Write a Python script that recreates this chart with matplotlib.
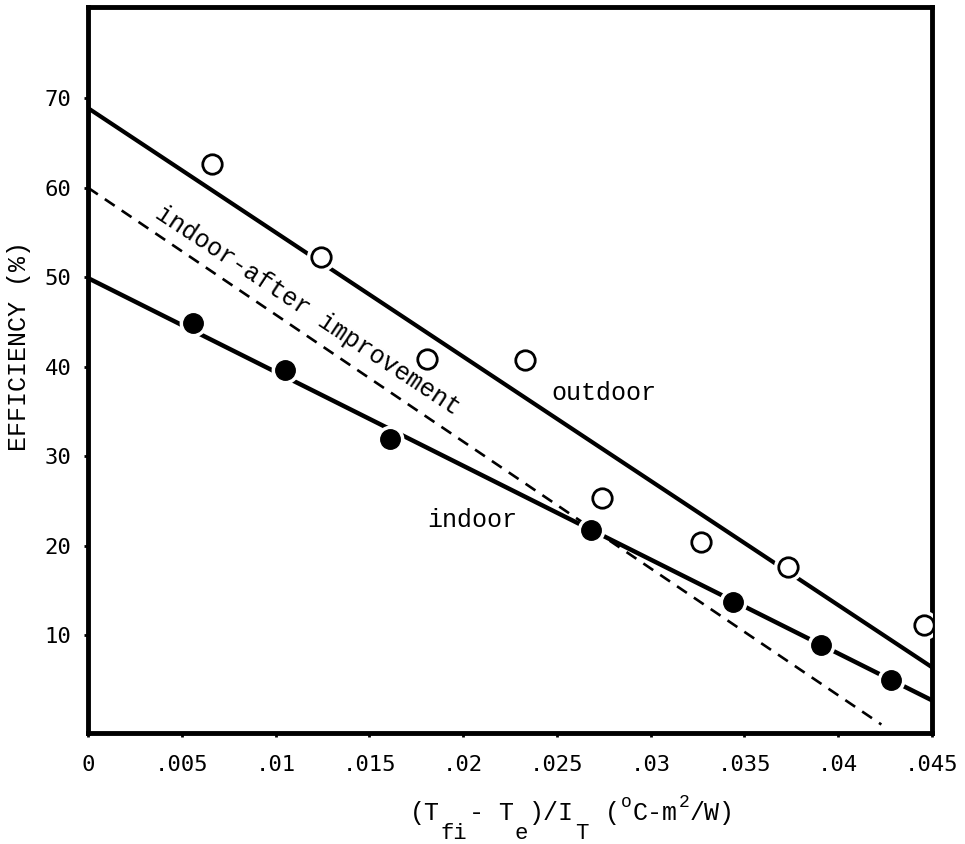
import matplotlib
matplotlib.use("Agg")
import matplotlib.pyplot as plt
from matplotlib.transforms import IdentityTransform

# ---- data ----
outdoor_x = [0.0066, 0.0124, 0.0181, 0.0233, 0.0274, 0.0327, 0.0373, 0.0446]
outdoor_y = [62.7, 52.2, 40.9, 40.7, 25.3, 20.4, 17.6, 11.1]
indoor_x = [0.0056, 0.0105, 0.0161, 0.0268, 0.0344, 0.0391, 0.0428]
indoor_y = [44.9, 39.6, 31.9, 21.7, 13.7, 8.9, 5.0]

outdoor_fit_x = [0.0, 0.045]
outdoor_fit_y = [68.9, 6.4]
indoor_fit_x = [0.0, 0.045]
indoor_fit_y = [49.9, 2.7]
improved_fit_x = [0.0, 0.0423]
improved_fit_y = [60.0, 0.0]

xticks = [0, 0.005, 0.01, 0.015, 0.02, 0.025, 0.03, 0.035, 0.04, 0.045]
xticklabels = ["0", ".005", ".01", ".015", ".02", ".025", ".03", ".035", ".04", ".045"]
yticks = [10, 20, 30, 40, 50, 60, 70]
yticklabels = ["10", "20", "30", "40", "50", "60", "70"]

# x-axis label pieces: (text, level)  level 0 = normal, -1 = subscript, +1 = superscript
xlabel_parts = [("(T", 0), ("fi", -1), ("- T", 0), ("e", -1), (")/I", 0), ("T", -1),
                (" (", 0), ("o", 1), ("C-m", 0), ("2", 1), ("/W)", 0)]

MONO = "Liberation Mono"
TICKFONT = "DejaVu Sans Mono"

fig = plt.figure(figsize=(9.65, 8.44), dpi=100)
ax = fig.add_axes([88 / 965, 111 / 844, 844 / 965, 726 / 844])

ax.plot(outdoor_fit_x, outdoor_fit_y, color="black", lw=3.0, solid_capstyle="butt", zorder=2)
ax.plot(indoor_fit_x, indoor_fit_y, color="black", lw=3.2, solid_capstyle="butt", zorder=2)
ax.plot(improved_fit_x, improved_fit_y, color="black", lw=1.9, dashes=(4.5, 3.2), zorder=2)

# white halos to create gaps in lines around markers
ax.plot(outdoor_x, outdoor_y, ls="none", marker="o", ms=20, mfc="white", mec="white", zorder=3)
ax.plot(indoor_x, indoor_y, ls="none", marker="o", ms=19, mfc="white", mec="white", zorder=3)
ax.plot(outdoor_x, outdoor_y, ls="none", marker="o", ms=14, mfc="white", mec="black", mew=2.0, zorder=4)
ax.plot(indoor_x, indoor_y, ls="none", marker="o", ms=14, mfc="black", mec="black", zorder=4)

ax.text(0.02751, 37.0, "outdoor", family=MONO, fontsize=18, ha="center", va="center")
ax.text(0.02048, 22.85, "indoor", family=MONO, fontsize=18, ha="center", va="center")
ax.text(0.01170, 46.3, "indoor-after improvement", family=MONO, fontsize=18,
        ha="center", va="center", rotation=-33.5, rotation_mode="anchor")

ax.set_xlim(0, 0.045)
ax.set_ylim(-0.95, 80.2)
ax.set_xticks(xticks)
ax.set_xticklabels(xticklabels, family=TICKFONT, fontsize=16)
ax.set_yticks(yticks)
ax.set_yticklabels(yticklabels, family=TICKFONT, fontsize=16)
ax.tick_params(axis="x", length=3, width=2, pad=13, direction="out")
ax.tick_params(axis="y", length=3, width=2, pad=9, direction="out")
for sp in ax.spines.values():
    sp.set_linewidth(3.5)

fig.text(19 / 965, (844 - 346) / 844, "EFFICIENCY (%)", family=MONO, fontsize=18,
         rotation=90, ha="center", va="center")

# x label laid out piece by piece (pixel coordinates, y measured from bottom)
renderer = fig.canvas.get_renderer()
x_px = 410.0
base_px = 844 - 820
sizes = {0: 18, -1: 16, 1: 13}
offsets = {0: 0, -1: -19, 1: 13}
for txt, lvl in xlabel_parts:
    t = fig.text(x_px, base_px + offsets[lvl], txt, family=MONO, fontsize=sizes[lvl],
                 ha="left", va="baseline", transform=IdentityTransform())
    bb = t.get_window_extent(renderer=renderer)
    x_px = bb.x1 + 1

fig.savefig("out.png", dpi=100, facecolor="white")
